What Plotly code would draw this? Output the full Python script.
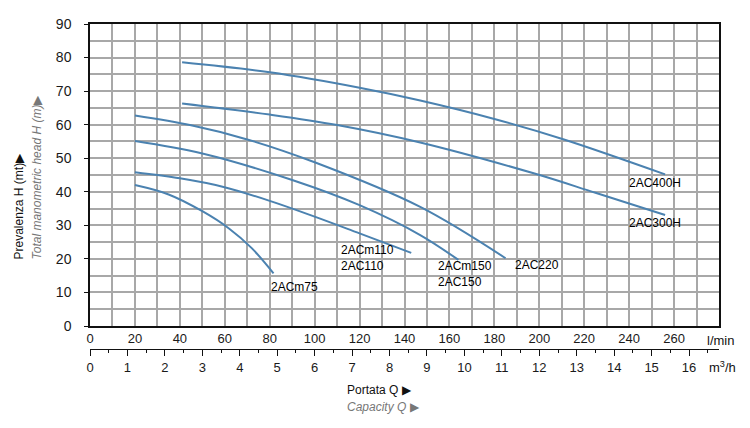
import plotly.graph_objects as go

# ---- data (Q in l/min, H in m) ----
q_400h = [41, 80, 120, 147, 180, 211, 256]
h_400h = [78.6, 75.6, 71.0, 67.2, 61.7, 55.6, 45.2]

q_300h = [41, 80, 110, 147, 197.5, 225, 256]
h_300h = [66.3, 63.0, 59.9, 54.7, 45.5, 39.7, 33.1]

q_220 = [20, 45, 70, 100, 147, 185]
h_220 = [62.7, 59.8, 55.6, 48.8, 35.5, 20.2]

q_150 = [20, 50, 90, 120, 147, 164]
h_150 = [55.1, 51.4, 43.5, 36.0, 27.1, 19.7]

q_110 = [20, 40, 59, 80, 100, 120, 143]
h_110 = [45.8, 44.0, 41.5, 37.3, 32.6, 27.6, 21.8]

q_75 = [20, 35, 50, 62, 72, 81.7]
h_75 = [42.0, 39.2, 34.2, 29.0, 23.2, 15.7]

lpm_ticks = [0, 20, 40, 60, 80, 100, 120, 140, 160, 180, 200, 220, 240, 260]
m3h_ticks = list(range(0, 17))
h_ticks = [0, 10, 20, 30, 40, 50, 60, 70, 80, 90]

curves = [
    (q_400h, h_400h), (q_300h, h_300h), (q_220, h_220),
    (q_150, h_150), (q_110, h_110), (q_75, h_75),
]

LPM_PER_M3H = 1000.0 / 60.0
q_max_lpm = 280
h_max = 90

FONT = "Liberation Sans, Arial, sans-serif"
LINE_COLOR = "#4b82b0"
GRID = "#a8a8a8"

fig = go.Figure()
for q, h in curves:
    fig.add_trace(go.Scatter(
        x=q, y=h, mode="lines", line=dict(color=LINE_COLOR, width=2, shape="spline", smoothing=1.0),
        hoverinfo="skip", showlegend=False, xaxis="x", yaxis="y"))

# invisible trace for second (m3/h) axis
fig.add_trace(go.Scatter(x=[0, q_max_lpm / LPM_PER_M3H], y=[None, None], mode="lines",
                         showlegend=False, hoverinfo="skip", xaxis="x2", yaxis="y"))

# plot-area pixel geometry
L, R, T, B2 = 90, 719, 24, 349   # B2 = second axis line
B = 326                          # main plot bottom
W, H = 750, 428
ph = B2 - T
pw = R - L
def px(xp):
    return (xp - L) / pw
def py(yp):
    return (B2 - yp) / ph

fig.update_layout(
    width=W, height=H,
    margin=dict(l=L, r=W - R, t=T, b=H - B2),
    paper_bgcolor="white", plot_bgcolor="white",
    font=dict(family=FONT, size=13, color="#1a1a1a"),
    xaxis=dict(
        range=[0, q_max_lpm], domain=[0, 1], anchor="y",
        tickmode="array", tickvals=lpm_ticks, ticktext=[str(v) for v in lpm_ticks], ticks="",
        showgrid=False,
        minor=dict(tick0=0, dtick=10, showgrid=True, gridcolor=GRID, gridwidth=1.6),
        showline=True, linecolor="#111", linewidth=1.5, mirror=True,
        zeroline=False, tickfont=dict(size=13),
    ),
    xaxis2=dict(
        range=[0, q_max_lpm / LPM_PER_M3H], overlaying="x", anchor="free", position=0,
        side="bottom", tickmode="array", tickvals=m3h_ticks, ticktext=[str(v) for v in m3h_ticks],
        ticks="outside", ticklen=6, tickwidth=1.3, tickcolor="#111",
        minor=dict(tick0=0, dtick=0.5, ticks="outside", ticklen=3, tickwidth=1.3, tickcolor="#111"),
        showgrid=False, showline=True, linecolor="#111", linewidth=1.3, zeroline=False,
        tickfont=dict(size=13),
    ),
    yaxis=dict(
        range=[0, h_max], domain=[(B2 - B) / ph, 1],
        tickmode="array", tickvals=h_ticks, ticktext=[str(v) for v in h_ticks],
        ticks="outside", ticklen=4, tickcolor="#111", tickwidth=1.3,
        showgrid=True, gridcolor=GRID, gridwidth=1.6,
        minor=dict(tick0=0, dtick=5, showgrid=True, gridcolor=GRID, gridwidth=1.6),
        showline=True, linecolor="#111", linewidth=1.5, mirror=True,
        zeroline=False, tickfont=dict(size=14), ticklabelstandoff=10,
    ),
)

ann = []
def lab(text, x, y):
    ann.append(dict(text=text, x=x, y=y, xref="x", yref="y", xanchor="left", yanchor="middle",
                    align="left", showarrow=False, font=dict(size=12, color="#000")))

lab("2ACm75", 79.9, 11.6)
lab("2ACm110<br>2AC110", 110.8, 20.2)
lab("2ACm150<br>2AC150", 154.0, 15.4)
lab("2AC220", 188.5, 18.2)
lab("2AC400H", 239.2, 42.5)
lab("2AC300H", 239.2, 30.6)

def pann(text, xp, yp, **kw):
    d = dict(text=text, x=px(xp), y=py(yp), xref="paper", yref="paper",
             showarrow=False, xanchor="left", yanchor="middle")
    d.update(kw)
    ann.append(d)

pann("l/min", 705, 340, font=dict(size=13, color="#111"))
pann("m<sup>3</sup>/h", 707, 367, font=dict(size=13, color="#111"))
pann("Portata Q ▶", 345, 390, font=dict(size=12, color="#111"))
pann("<i>Capacity Q</i> ▶", 345, 407, font=dict(size=12, color="#777"))
pann("Prevalenza H (mt)▶", 18, 262, xanchor="center", yanchor="bottom", textangle=-90,
     font=dict(size=12, color="#111"))
pann("<i>Total manometric head H (m)</i>▶", 36, 262, xanchor="center", yanchor="bottom", textangle=-90,
     font=dict(size=12, color="#777"))

fig.update_layout(annotations=ann)
fig.write_html("out.html")
